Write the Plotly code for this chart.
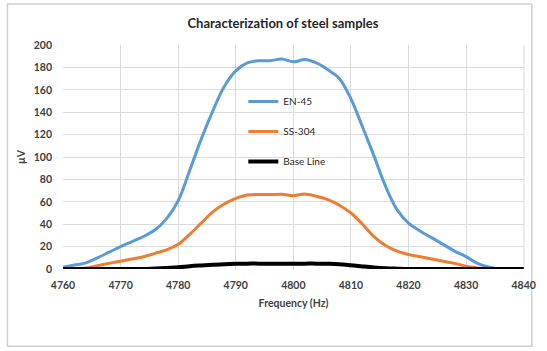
import plotly.graph_objects as go

freq = list(range(4760, 4842, 2))
en45 = [1.5, 3.5, 5.5, 10, 15, 20, 24.5, 29, 35, 45, 61, 88, 116, 141, 163, 177, 184, 186, 186,
        187.5, 185, 187, 184, 178, 170, 152, 127, 101, 74, 53, 41, 34, 28, 22, 16, 11, 5, 1.5, 0, 0, 0]
ss304 = [0, 0.3, 1, 3, 5, 7, 9, 11, 14, 17, 22, 31, 41, 51, 58, 63, 66, 66.5, 66.5, 66.7, 65.5,
         67, 65, 62, 57, 50, 40, 29, 21, 16, 13, 11, 9, 7, 5, 2.5, 1, 0, 0, 0, 0]
base = [0, 0, 0, 0, 0, 0, 0, 0, 0.5, 1, 1.5, 2.5, 3.2, 3.8, 4.3, 4.6, 4.8, 4.8, 4.8, 4.8, 4.8,
        4.8, 4.8, 4.6, 4.2, 3.3, 2.3, 1.4, 0.7, 0.3, 0, 0, 0, 0, 0, 0, 0, 0, 0, 0, 0]

xticks = list(range(4760, 4850, 10))
yticks = list(range(0, 220, 20))

W, H = 547, 351
L, R, T, B = 63, 536, 45, 269.5

def px(x):
    return (x - L) / (R - L)

def py(y):
    return (B - y) / (B - T)

font = "Lato, 'Open Sans', sans-serif"
fig = go.Figure()
fig.add_trace(go.Scatter(x=freq, y=en45, name="EN-45", mode="lines", legendgroup="a",
                         line=dict(color="#5B9BD5", width=3, shape="spline")))
fig.add_trace(go.Scatter(x=freq, y=ss304, name="SS-304", mode="lines", legendgroup="b",
                         line=dict(color="#ED7D31", width=3, shape="spline")))
fig.add_trace(go.Scatter(x=freq, y=base, name="Base Line", mode="lines", legendgroup="c",
                         line=dict(color="#000000", width=4, shape="spline")))

fig.update_layout(
    width=W, height=H,
    margin=dict(l=L, r=W - R, t=T, b=H - B),
    paper_bgcolor="white", plot_bgcolor="white",
    font=dict(family=font, color="#404040", size=11),
    title=dict(text="<b>Characterization of steel samples</b>", x=283 / W, xanchor="center",
               y=1 - 23 / H, yanchor="middle", font=dict(size=13, color="#262626", family=font)),
    xaxis=dict(range=[4760, 4840.05], tickvals=xticks, ticktext=[f"<b>{v}</b>" for v in xticks],
               showgrid=True, gridcolor="#DADADA", gridwidth=1, zeroline=False,
               showline=False, ticks="", tickfont=dict(size=10.5, color="#404040"),
               ticklabelstandoff=8, ticklabeloverflow="allow",
               title=dict(text="<b>Frequency (Hz)</b>", font=dict(size=10.5, color="#404040"), standoff=10)),
    yaxis=dict(range=[0, 200.05], tickvals=yticks, ticktext=[f"<b>{v}</b>" for v in yticks],
               showgrid=True, gridcolor="#DADADA", gridwidth=1, zeroline=False,
               showline=False, ticks="", tickfont=dict(size=10.5, color="#404040"),
               ticklabelstandoff=10,
               title=dict(text="<b>µV</b>", font=dict(size=10.5, color="#404040"), standoff=6)),
    legend=dict(x=px(248), y=py(87), xanchor="left", yanchor="top", bgcolor="rgba(0,0,0,0)",
                traceorder="grouped", tracegroupgap=11, font=dict(size=10, color="#262626"),
                itemwidth=30),
    showlegend=True,
    shapes=[dict(type="rect", xref="paper", yref="paper", x0=px(6), x1=px(544), y0=py(347), y1=py(4),
                 line=dict(color="#D0D0D0", width=1.5), fillcolor="rgba(0,0,0,0)", layer="below"),
            dict(type="line", xref="paper", yref="paper", x0=1, x1=1, y0=0, y1=1,
                 line=dict(color="#DADADA", width=1), layer="below")],
)
fig.write_html("out.html", config={"displayModeBar": False},
               post_script="document.body.style.margin='0';")
